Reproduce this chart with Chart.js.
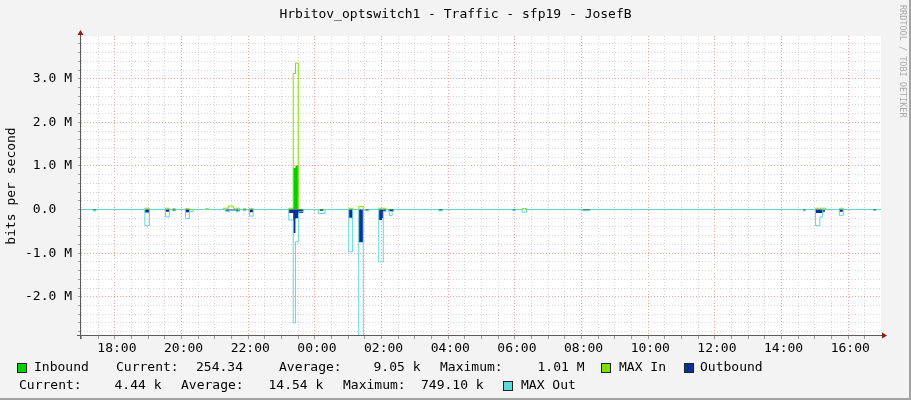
<!DOCTYPE html>
<html><head><meta charset="utf-8">
<script src="https://cdn.jsdelivr.net/npm/chart.js@4/dist/chart.umd.min.js"></script>
<style>html,body{margin:0;padding:0;background:#f3f3f3;overflow:hidden}canvas{display:block}</style>
</head><body>
<canvas id="c" width="911" height="400" style="width:911px;height:400px"></canvas>
<script>
// ---------- data ----------
const chartTitle = "Hrbitov_optswitch1 - Traffic - sfp19 - JosefB";
const yAxisTitle = "bits per second";
const watermark = "RRDTOOL / TOBI OETIKER";
const xTickLabels = ["18:00","20:00","22:00","00:00","02:00","04:00","06:00","08:00","10:00","12:00","14:00","16:00"];
const yTickValues = [-2, -1, 0, 1, 2, 3];
const yTickLabels = ["-2.0 M", "-1.0 M", "0.0  ", "1.0 M", "2.0 M", "3.0 M"];
const seriesNames = ["Inbound", "MAX In", "Outbound", "MAX Out"];
const inStats = ["254.34", "9.05 k", "1.01 M"];
const outStats = ["4.44 k", "14.54 k", "749.10 k"];

// values in Mbit/s, each value holds from its time until the next time
const inTimes  = ["23:13","23:21","23:25","23:30"];
const inValues = [0.01, 0.95, 1.01, 0];

const maxInTimes  = ["18:54","19:02","19:31","19:38","19:44","19:49","20:07","20:14","20:43","20:49",
                     "21:15","21:24","21:33","21:45","21:51","21:56","22:02","22:09",
                     "23:13","23:21","23:25","23:30","01:01","01:08","01:19","01:27","01:55","02:08",
                     "06:13","06:21","15:01","15:20","15:44","15:51"];
const maxInValues = [0.03,0, 0.03,0, 0.02,0, 0.02,0, 0.02,0,
                     0.03,0.08,0.03,0, 0.02,0, 0.02,0,
                     0.03,3.12,3.36,0, 0.03,0, 0.07,0, 0.03,0,
                     0.02,0, 0.03,0, 0.03,0];

const outTimes  = ["17:21","17:26","18:54","19:02","19:31","19:38","19:44","19:49","20:07","20:14",
                   "21:18","21:45","21:51","21:56","22:02","22:09",
                   "23:13","23:21","23:25","23:30","23:39","00:09","00:15",
                   "01:01","01:08","01:19","01:27","01:31","01:37",
                   "01:55","02:01","02:03","02:08","02:14","02:22",
                   "03:43","03:50","05:56","06:01","08:02","08:15",
                   "14:39","14:43","15:01","15:15","15:18","15:44","15:51","16:45","16:50"];
const outValues = [0.02,0, 0.07,0, 0.05,0, 0.03,0, 0.06,0,
                   0.03,0, 0.02,0, 0.06,0,
                   0.08,0.54,0.2,0.08,0, 0.03,0,
                   0.19,0, 0.75,0, 0.02,0,
                   0.24,0.2,0.04,0, 0.04,0,
                   0.02,0, 0.02,0, 0.02,0,
                   0.02,0, 0.08,0.05,0, 0.05,0, 0.02,0];

const maxOutTimes  = ["17:21","17:26","18:54","19:02","19:31","19:38","19:44","19:49","20:07","20:14","20:21",
                      "21:20","21:26","21:38","21:43","21:51","21:56","22:02","22:09",
                      "23:13","23:21","23:25","23:31","23:39","00:06","00:18",
                      "01:01","01:08","01:19","01:27","01:31","01:37",
                      "01:55","02:03","02:08","02:12","02:14","02:19","02:22",
                      "03:43","03:50","05:56","06:01","06:13","06:21","08:02","08:15",
                      "14:39","14:43","15:01","15:09","15:14","15:44","15:51","16:45","16:50"];
const maxOutValues = [0.03,0, 0.37,0, 0.17,0, 0.03,0, 0.21,0.05,0,
                      0.05,0.02,0.05,0, 0.02,0, 0.15,0,
                      0.24,2.6,0.74,0.05,0, 0.09,0,
                      0.97,0, 3.3,0, 0.03,0,
                      1.2,0.04,0, 0.04,0.14,0.04,0,
                      0.03,0, 0.02,0, 0.06,0, 0.02,0,
                      0.03,0, 0.37,0.17,0, 0.14,0, 0.02,0];

// ---------- helpers ----------
const X_MIN = 16*60 + 59, X_MAX = X_MIN + 1440;   // 16:59 .. 16:59 next day (minutes)
const Y_MIN = -2.9, Y_MAX = 3.98;
const FONT = '"DejaVu Sans Mono", monospace';

function toMin(s) { const [h, m] = s.split(':').map(Number); let v = h*60 + m; if (v < X_MIN) v += 1440; return v; }
function fmt(v) { const t = ((Math.round(v) % 1440) + 1440) % 1440; return String(Math.floor(t/60)).padStart(2,'0') + ':' + String(t%60).padStart(2,'0'); }
function steps(times, values, sign) {
  const pts = [{x: X_MIN, y: 0}];
  times.forEach((t, i) => pts.push({x: toMin(t), y: sign * values[i]}));
  pts.push({x: X_MAX, y: 0});
  return pts;
}
function yLabel(v) { const i = yTickValues.findIndex(k => Math.abs(k - v) < 1e-6); return i < 0 ? '' : yTickLabels[i]; }
function xLabel(v) { const l = fmt(v); return (xTickLabels.includes(l) && v % 120 === 0) ? l : ''; }

const COLORS = {inb: '#00CF00', maxIn: '#7FE000', outb: '#0A2D98', maxOut: '#5ED8D8'};
const GRID_MINOR = '#D6D6D6', GRID_MAJOR = '#F0A4A4';

const frame = {
  id: 'frame',
  beforeDraw(chart) {
    const {ctx, chartArea: a} = chart;
    ctx.save();
    ctx.fillStyle = '#F3F3F3'; ctx.fillRect(0, 0, 911, 400);
    ctx.fillStyle = '#FFFFFF'; ctx.fillRect(a.left, a.top, a.right - a.left, a.bottom - a.top);
    ctx.fillStyle = '#A2A2A2'; ctx.fillRect(909, 0, 2, 400); ctx.fillRect(0, 398, 911, 2);
    ctx.restore();
  },
  afterDraw(chart) {
    const {ctx, chartArea: a} = chart;
    ctx.save();
    // axes
    ctx.strokeStyle = '#5A5A5A'; ctx.lineWidth = 1;
    ctx.beginPath();
    ctx.moveTo(a.left - 4, a.bottom - 0.5); ctx.lineTo(a.right + 2, a.bottom - 0.5);
    ctx.moveTo(a.left - 0.5, a.bottom + 3); ctx.lineTo(a.left - 0.5, a.top - 3);
    ctx.stroke();
    ctx.fillStyle = '#8E1A1A';
    ctx.beginPath();
    ctx.moveTo(a.right + 1, a.bottom - 3.5); ctx.lineTo(a.right + 6, a.bottom - 0.5); ctx.lineTo(a.right + 1, a.bottom + 2.5); ctx.closePath(); ctx.fill();
    ctx.beginPath();
    ctx.moveTo(a.left - 3.5, a.top - 1); ctx.lineTo(a.left - 0.5, a.top - 6); ctx.lineTo(a.left + 2.5, a.top - 1); ctx.closePath(); ctx.fill();

    // title
    ctx.fillStyle = '#000';
    ctx.font = '13px ' + FONT;
    ctx.textAlign = 'center'; ctx.textBaseline = 'middle';
    ctx.fillText(chartTitle, 455.5, 15);

    // y title
    ctx.save();
    ctx.translate(12, 186); ctx.rotate(-Math.PI/2);
    ctx.fillText(yAxisTitle, 0, 0);
    ctx.restore();

    // watermark
    ctx.save();
    ctx.fillStyle = '#A8A8A8';
    ctx.font = '8.5px ' + FONT;
    ctx.translate(902, 5); ctx.rotate(Math.PI/2);
    ctx.textAlign = 'left'; ctx.textBaseline = 'middle';
    ctx.fillText(watermark, 0, 0);
    ctx.restore();

    // legend
    ctx.font = '13px ' + FONT;
    ctx.textAlign = 'left'; ctx.textBaseline = 'middle';
    const box = (x, y, c) => {
      ctx.fillStyle = c; ctx.fillRect(x, y, 10, 10);
      ctx.strokeStyle = '#222'; ctx.lineWidth = 1; ctx.strokeRect(x + 0.5, y + 0.5, 9, 9);
      ctx.fillStyle = '#000';
    };
    const y1 = 368, y2 = 386;
    box(17, y1 - 5, COLORS.inb);
    ctx.fillText(seriesNames[0], 34, y1);
    ctx.fillText('Current:', 116, y1);
    ctx.fillText(inStats[0], 196, y1);
    ctx.fillText('Average:', 279, y1);
    ctx.fillText(inStats[1], 373.5, y1);
    ctx.fillText('Maximum:', 440, y1);
    ctx.fillText(inStats[2], 537.5, y1);
    box(601, y1 - 5, COLORS.maxIn);
    ctx.fillText(seriesNames[1], 619, y1);
    box(684, y1 - 5, COLORS.outb);
    ctx.fillText(seriesNames[2], 700, y1);

    ctx.fillText('Current:', 19, y2);
    ctx.fillText(outStats[0], 114.5, y2);
    ctx.fillText('Average:', 181, y2);
    ctx.fillText(outStats[1], 268.5, y2);
    ctx.fillText('Maximum:', 343, y2);
    ctx.fillText(outStats[2], 421, y2);
    box(503, y2 - 5, COLORS.maxOut);
    ctx.fillText(seriesNames[3], 521, y2);
    ctx.restore();
  }
};

const common = {stepped: true, pointRadius: 0, pointHoverRadius: 0, tension: 0};
// first dataset in the array is drawn top-most
new Chart(document.getElementById('c').getContext('2d'), {
  type: 'line',
  data: {
    datasets: [
      {...common, label: seriesNames[3], data: steps(maxOutTimes, maxOutValues, -1), fill: false,
       borderColor: COLORS.maxOut, borderWidth: 1},
      {...common, label: seriesNames[2], data: steps(outTimes, outValues, -1), fill: 'origin',
       backgroundColor: COLORS.outb, borderColor: 'rgba(0,0,0,0)', borderWidth: 1},
      {...common, label: seriesNames[1], data: steps(maxInTimes, maxInValues, 1), fill: false,
       borderColor: COLORS.maxIn, borderWidth: 1},
      {...common, label: seriesNames[0], data: steps(inTimes, inValues, 1), fill: 'origin',
       backgroundColor: COLORS.inb, borderColor: 'rgba(0,0,0,0)', borderWidth: 1}
    ]
  },
  options: {
    responsive: false, animation: false, devicePixelRatio: 1,
    layout: {padding: {top: 36, right: 30, bottom: 0, left: 0}},
    plugins: {legend: {display: false}, tooltip: {enabled: false}, title: {display: false}},
    scales: {
      x: {
        type: 'linear', min: X_MIN, max: X_MAX,
        afterBuildTicks(s) { const t = []; for (let v = 17*60; v < X_MAX; v += 30) if (v > X_MIN) t.push({value: v}); s.ticks = t; },
        afterFit(s) { s.height = 64; },
        ticks: {autoSkip: false, maxRotation: 0, minRotation: 0, padding: 2, labelOffset: 2, color: '#000',
                font: {family: FONT, size: 13}, callback: v => xLabel(v)},
        grid: {color: c => (c.tick && xLabel(c.tick.value)) ? GRID_MAJOR : GRID_MINOR, lineWidth: 1,
               tickLength: 3, tickColor: '#9A9A9A'},
        border: {display: false, dash: [1, 2]}
      },
      y: {
        type: 'linear', min: Y_MIN, max: Y_MAX,
        afterBuildTicks(s) { const t = []; for (let k = -14; k < 20; k++) t.push({value: k/5}); s.ticks = t; },
        afterFit(s) { s.width = 81; },
        ticks: {autoSkip: false, padding: 6, color: '#000', font: {family: FONT, size: 13}, callback: v => yLabel(v)},
        grid: {color: c => (c.tick && yLabel(c.tick.value)) ? GRID_MAJOR : GRID_MINOR, lineWidth: 1,
               tickLength: 3, tickColor: '#9A9A9A'},
        border: {display: false, dash: [1, 2]}
      }
    }
  },
  plugins: [frame]
});
</script>
</body></html>
